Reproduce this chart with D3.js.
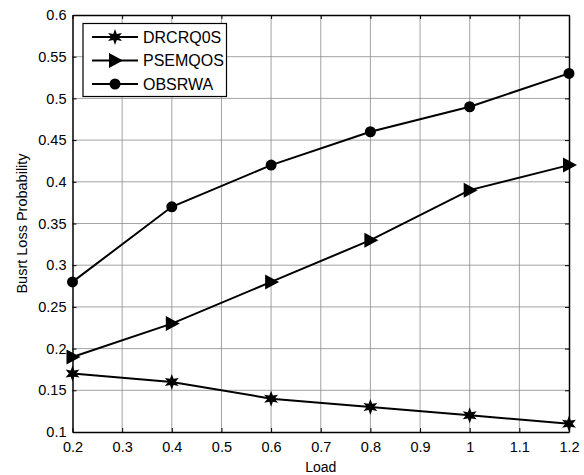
<!DOCTYPE html>
<html>
<head>
<meta charset="utf-8">
<script src="https://cdn.jsdelivr.net/npm/d3@7"></script>
<style>
  html, body { margin: 0; padding: 0; background: #fff; }
  svg { display: block; font-family: "Liberation Sans", Arial, sans-serif; }
</style>
</head>
<body>
<svg id="chart" width="584" height="475"></svg>
<script>
// Load values and the three series
const loads = [0.2, 0.4, 0.6, 0.8, 1.0, 1.2];
const drcrq0s = [0.17, 0.16, 0.14, 0.13, 0.12, 0.11];
const psemqos = [0.19, 0.23, 0.28, 0.33, 0.39, 0.42];
const obsrwa = [0.28, 0.37, 0.42, 0.46, 0.49, 0.53];
const seriesNames = ["DRCRQ0S", "PSEMQOS", "OBSRWA"];
const xTicks = [0.2, 0.3, 0.4, 0.5, 0.6, 0.7, 0.8, 0.9, 1, 1.1, 1.2];
const yTicks = [0.1, 0.15, 0.2, 0.25, 0.3, 0.35, 0.4, 0.45, 0.5, 0.55, 0.6];

const series = [
  { name: seriesNames[0], values: drcrq0s, marker: "star" },
  { name: seriesNames[1], values: psemqos, marker: "triangle" },
  { name: seriesNames[2], values: obsrwa, marker: "circle" }
];

const svg = d3.select("#chart");
const m = { left: 72.5, right: 569, top: 15, bottom: 432 };

const x = d3.scaleLinear().domain([0.2, 1.2]).range([m.left, m.right]);
const y = d3.scaleLinear().domain([0.1, 0.6]).range([m.bottom, m.top]);

// Grid
const grid = svg.append("g");
grid.selectAll("line.gx").data(xTicks.slice(1, -1)).enter().append("line")
  .attr("x1", d => x(d)).attr("x2", d => x(d))
  .attr("y1", m.top).attr("y2", m.bottom)
  .attr("stroke", "#8c8c8c").attr("stroke-width", 0.8);
grid.selectAll("line.gy").data(yTicks.slice(1, -1)).enter().append("line")
  .attr("y1", d => y(d)).attr("y2", d => y(d))
  .attr("x1", m.left).attr("x2", m.right)
  .attr("stroke", "#8c8c8c").attr("stroke-width", 0.8);

// Axes with inward ticks on all four sides
const fmt = d => String(+d.toFixed(2));
const axB = svg.append("g").attr("transform", `translate(0,${m.bottom})`)
  .call(d3.axisBottom(x).tickValues(xTicks).tickSizeInner(-4).tickSizeOuter(0).tickPadding(10).tickFormat(fmt));
const axL = svg.append("g").attr("transform", `translate(${m.left},0)`)
  .call(d3.axisLeft(y).tickValues(yTicks).tickSizeInner(-4).tickSizeOuter(0).tickPadding(6).tickFormat(fmt));
const axT = svg.append("g").attr("transform", `translate(0,${m.top})`)
  .call(d3.axisTop(x).tickValues(xTicks).tickSizeInner(-4).tickSizeOuter(0).tickFormat(""));
const axR = svg.append("g").attr("transform", `translate(${m.right},0)`)
  .call(d3.axisRight(y).tickValues(yTicks).tickSizeInner(-4).tickSizeOuter(0).tickFormat(""));

[axB, axL, axT, axR].forEach(a => {
  a.select(".domain").attr("stroke", "#000").attr("stroke-width", 1.5);
  a.selectAll(".tick line").attr("stroke", "#000");
  a.selectAll("text").attr("font-size", 14.5).attr("fill", "#000")
    .attr("font-family", "'Liberation Sans', Arial, sans-serif");
});

// Axis titles
svg.append("text").attr("x", (m.left + m.right) / 2).attr("y", 471.5)
  .attr("text-anchor", "middle").attr("font-size", 14).text("Load");
svg.append("text").attr("transform", `translate(27,${(m.top + m.bottom) / 2}) rotate(-90)`)
  .attr("text-anchor", "middle").attr("font-size", 14.5).text("Busrt Loss Probability");

// Marker symbols
const hexStar = (() => {
  const pts = [];
  const ro = 8, ri = 3.6;
  for (let i = 0; i < 12; i++) {
    const a = -Math.PI / 2 + i * Math.PI / 6;
    const r = i % 2 === 0 ? ro : ri;
    pts.push([r * Math.cos(a), r * Math.sin(a)]);
  }
  return "M" + pts.map(p => p.join(",")).join("L") + "Z";
})();
const triRight = "M-6,-7.5L8,0L-6,7.5Z";

function drawMarker(g, type, cx, cy) {
  if (type === "circle") {
    g.append("circle").attr("cx", cx).attr("cy", cy).attr("r", 5.5).attr("fill", "#000");
  } else if (type === "triangle") {
    g.append("path").attr("d", triRight).attr("transform", `translate(${cx},${cy})`).attr("fill", "#000");
  } else {
    g.append("path").attr("d", hexStar).attr("transform", `translate(${cx},${cy})`).attr("fill", "#000");
  }
}

// Lines and markers
const line = d3.line().x((d, i) => x(loads[i])).y(d => y(d));
series.forEach(s => {
  svg.append("path").datum(s.values).attr("d", line)
    .attr("fill", "none").attr("stroke", "#000").attr("stroke-width", 2);
  const g = svg.append("g");
  s.values.forEach((v, i) => drawMarker(g, s.marker, x(loads[i]), y(v)));
});

// Legend
const lg = svg.append("g");
lg.append("rect").attr("x", 83).attr("y", 23.5).attr("width", 143.5).attr("height", 73)
  .attr("fill", "#fff").attr("stroke", "#000").attr("stroke-width", 1.2);
series.forEach((s, i) => {
  const cy = 37 + i * 23.5;
  lg.append("line").attr("x1", 92).attr("x2", 138).attr("y1", cy).attr("y2", cy)
    .attr("stroke", "#000").attr("stroke-width", 2);
  drawMarker(lg, s.marker, 115, cy);
  lg.append("text").attr("x", 143).attr("y", cy + 5.5).attr("font-size", 16).text(s.name);
});
</script>
</body>
</html>
